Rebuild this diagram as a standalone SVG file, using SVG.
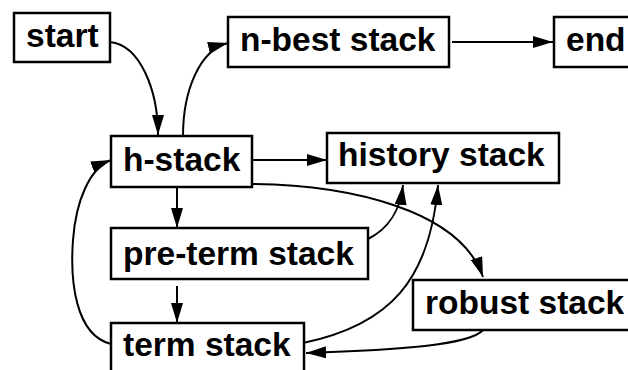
<svg xmlns="http://www.w3.org/2000/svg" width="628" height="370" viewBox="0 0 628 370">
  <style>
    .box { fill: #fff; stroke: #000; stroke-width: 2.5; }
    .lbl { font-family: "Liberation Sans", Arial, sans-serif; font-weight: bold; font-size: 33.5px; fill: #000; }
    .edge { fill: none; stroke: #000; stroke-width: 2; marker-end: url(#arrow); }
  </style>
  <defs>
    <marker id="arrow" markerUnits="userSpaceOnUse" viewBox="0 0 20 12" refX="20" refY="6" markerWidth="20" markerHeight="12" orient="auto">
      <path d="M0,0 L20,6 L0,12 Z" fill="#000"/>
    </marker>
  </defs>
  <rect width="628" height="370" fill="#fff"/>

  <g id="edges">
    <path class="edge" d="M110,42 C140,45 158,90 158,135"/>
    <path class="edge" d="M183,136 C183,90 200,50 228,43"/>
    <path class="edge" d="M252,160 L327,160"/>
    <path class="edge" d="M452,42 L553,42"/>
    <path class="edge" d="M177,187 L177,228"/>
    <path class="edge" d="M177,286 L177,323"/>
    <path class="edge" d="M111,344 C75,335 70,280 73,240 C76,200 90,168 111,160"/>
    <path class="edge" d="M368,239 C390,228 400,210 403,185"/>
    <path class="edge" d="M303,343 C390,325 430,280 438,185"/>
    <path class="edge" d="M252,184 C350,185 460,210 483,277"/>
    <path class="edge" d="M483,330 C470,345 400,350 306,353"/>
  </g>

  <g id="start">
    <rect class="box" x="14" y="13" width="96" height="49"/>
    <text class="lbl" x="26" y="47">start</text>
  </g>
  <g id="n-best-stack">
    <rect class="box" x="228" y="17" width="221" height="50"/>
    <text class="lbl" x="240" y="51">n-best stack</text>
  </g>
  <g id="end">
    <rect class="box" x="554" y="17" width="90" height="50"/>
    <text class="lbl" x="566" y="51">end</text>
  </g>
  <g id="h-stack">
    <rect class="box" x="111" y="136" width="141" height="51"/>
    <text class="lbl" x="123" y="171">h-stack</text>
  </g>
  <g id="history-stack">
    <rect class="box" x="327" y="133" width="232" height="50"/>
    <text class="lbl" x="338" y="166">history stack</text>
  </g>
  <g id="pre-term-stack">
    <rect class="box" x="111" y="228" width="257" height="51"/>
    <text class="lbl" x="123" y="265">pre-term stack</text>
  </g>
  <g id="robust-stack">
    <rect class="box" x="413" y="280" width="230" height="50"/>
    <text class="lbl" x="425" y="314">robust stack</text>
  </g>
  <g id="term-stack">
    <rect class="box" x="111" y="323" width="193" height="60"/>
    <text class="lbl" x="123" y="356">term stack</text>
  </g>
</svg>
